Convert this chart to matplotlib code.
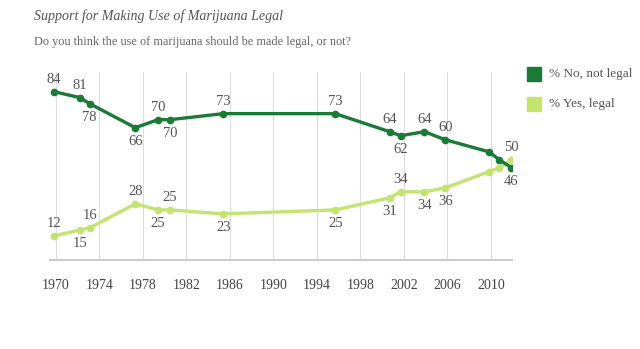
import matplotlib
matplotlib.use("Agg")
import matplotlib.pyplot as plt
from matplotlib.patches import Rectangle

# survey dates (fractional years as placed on the chart)
years = [1969.8, 1972.2, 1973.1, 1977.3, 1979.4, 1980.5, 1985.4, 1995.7,
         2000.7, 2001.7, 2003.9, 2005.8, 2009.8, 2010.8, 2011.9]
pct_no = [84, 81, 78, 66, 70, 70, 73, 73, 64, 62, 64, 60, 54, 50, 46]
pct_yes = [12, 15, 16, 28, 25, 25, 23, 25, 31, 34, 34, 36, 44, 46, 50]
tick_years = list(range(1970, 2011, 4))

# label position per point: 1 above, -1 below, 0 none
no_pos = [1, 1, -1, -1, 1, -1, 1, 1, 1, -1, 1, 1, 0, 0, -1]
yes_pos = [1, -1, 1, 1, -1, 1, -1, -1, -1, 1, -1, -1, 0, 0, 1]

dark = "#1b7a36"
light = "#c3e46e"
serif = ["Liberation Serif", "DejaVu Serif"]

fig = plt.figure(figsize=(6.4, 3.49), dpi=100)
ax = fig.add_axes([0.078, 0.255, 0.722, 0.54])

for y in tick_years:
    ax.axvline(y, color="#dddddd", lw=0.8, zorder=0)

ax.plot(years, pct_no, color=dark, lw=2.4, marker="o", ms=4.5, zorder=3)
ax.plot(years, pct_yes, color=light, lw=2.4, marker="o", ms=4.5, zorder=2)

def label(xs, ys, pos):
    for x, y, p in zip(xs, ys, pos):
        if p == 0:
            continue
        off = 9 if p > 0 else -10
        ax.annotate(str(y), (x, y), xytext=(0, off), textcoords="offset points",
                    ha="center", va="center", fontsize=10.5, color="#555555",
                    family=serif)

label(years, pct_no, no_pos)
label(years, pct_yes, yes_pos)

ax.set_xlim(1969.45, 2011.95)
ax.set_ylim(0, 94)
ax.set_xticks(tick_years)
ax.set_xticklabels([str(t) for t in tick_years], family=serif, fontsize=10,
                   color="#444444")
ax.tick_params(axis="x", length=0, pad=14)
ax.set_yticks([])
for s in ["top", "left", "right"]:
    ax.spines[s].set_visible(False)
ax.spines["bottom"].set_color("#cccccc")
ax.spines["bottom"].set_linewidth(1.5)

fig.text(34 / 640, 1 - 16 / 349, "Support for Making Use of Marijuana Legal",
         family=serif, style="italic", fontsize=10.1, color="#555555", va="center")
fig.text(34 / 640, 1 - 42 / 349,
         "Do you think the use of marijuana should be made legal, or not?",
         family=serif, fontsize=8.8, color="#666666", va="center")

# legend
for ypix, col, txt in [(67, dark, "% No, not legal"), (97, light, "% Yes, legal")]:
    fig.patches.append(Rectangle((527 / 640, 1 - (ypix + 14) / 349), 14 / 640, 14 / 349,
                                 transform=fig.transFigure, color=col))
    fig.text(549 / 640, 1 - (ypix + 7) / 349, txt, family=serif, fontsize=9.5,
             color="#555555", va="center")

fig.savefig("out.png", dpi=100)
